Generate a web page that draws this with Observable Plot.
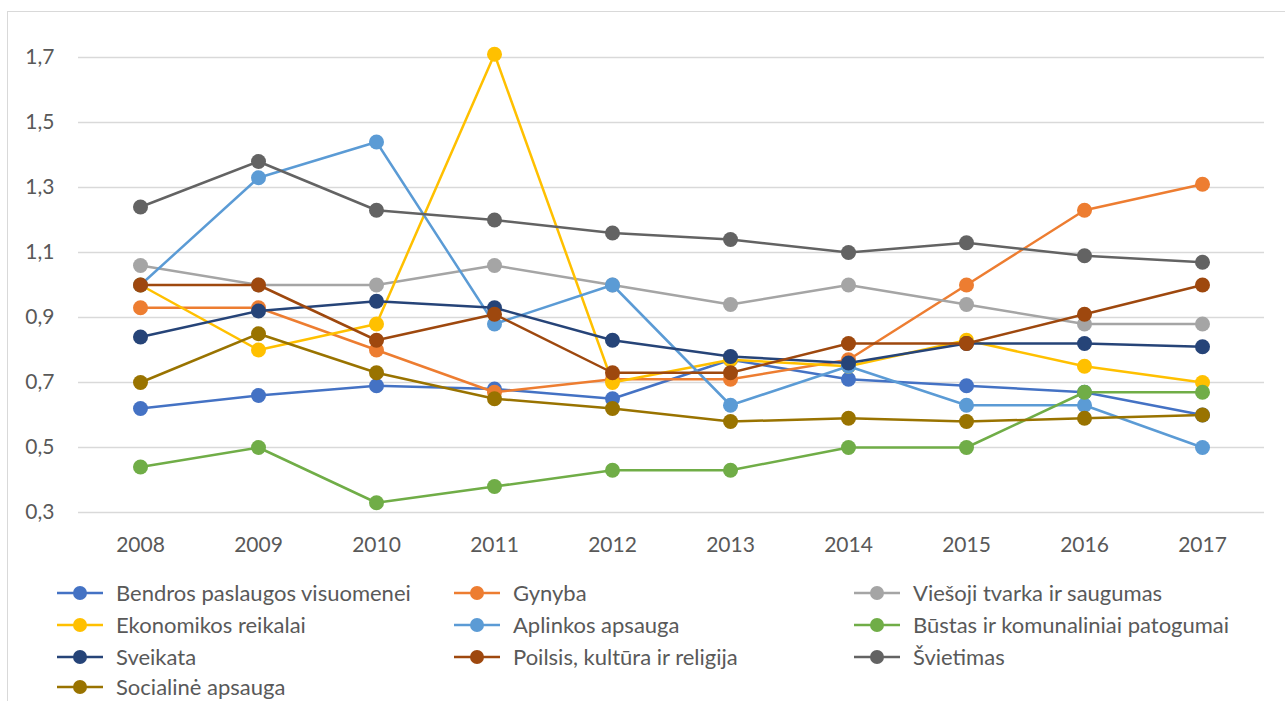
<!DOCTYPE html>
<html>
<head>
<meta charset="utf-8">
<script src="https://cdn.jsdelivr.net/npm/d3@7"></script>
<script src="https://cdn.jsdelivr.net/npm/@observablehq/plot@0.6"></script>
<style>
  html, body { margin: 0; padding: 0; background: #fff; }
  body { width: 1285px; height: 701px; overflow: hidden; position: relative; font-family: Lato, "Open Sans", sans-serif; }
  #frame { position: absolute; left: 7px; top: 11px; right: -5px; bottom: -5px; border-left: 1.5px solid #d9d9d9; border-top: 1.5px solid #d9d9d9; pointer-events: none; }
  #chart { position: absolute; left: 0; top: 0; }
  #legend { position: absolute; left: 0; top: 0; width: 1285px; height: 701px; pointer-events: none; }
  .item { position: absolute; display: flex; align-items: center; height: 26px; font-size: 22px; line-height: 26px; color: #595959; white-space: nowrap; }
  .item svg { display: block; }
</style>
</head>
<body>
<div id="frame"></div>
<div id="chart"></div>
<div id="legend"></div>
<script>
const years = ["2008","2009","2010","2011","2012","2013","2014","2015","2016","2017"];
const yTicks = [0.3, 0.5, 0.7, 0.9, 1.1, 1.3, 1.5, 1.7];

const seriesNames = [
  "Bendros paslaugos visuomenei",
  "Gynyba",
  "Viešoji tvarka ir saugumas",
  "Ekonomikos reikalai",
  "Aplinkos apsauga",
  "Būstas ir komunaliniai patogumai",
  "Sveikata",
  "Poilsis, kultūra ir religija",
  "Švietimas",
  "Socialinė apsauga"
];
const seriesColors = ["#4472C4","#ED7D31","#A5A5A5","#FFC000","#5B9BD5","#70AD47","#264478","#9E480E","#636363","#997300"];

const bendros     = [0.62, 0.66, 0.69, 0.68, 0.65, 0.77, 0.71, 0.69, 0.67, 0.60];
const gynyba      = [0.93, 0.93, 0.80, 0.67, 0.71, 0.71, 0.77, 1.00, 1.23, 1.31];
const viesoji     = [1.06, 1.00, 1.00, 1.06, 1.00, 0.94, 1.00, 0.94, 0.88, 0.88];
const ekonomikos  = [1.00, 0.80, 0.88, 1.71, 0.70, 0.77, 0.75, 0.83, 0.75, 0.70];
const aplinkos    = [1.00, 1.33, 1.44, 0.88, 1.00, 0.63, 0.75, 0.63, 0.63, 0.50];
const bustas      = [0.44, 0.50, 0.33, 0.38, 0.43, 0.43, 0.50, 0.50, 0.67, 0.67];
const sveikata    = [0.84, 0.92, 0.95, 0.93, 0.83, 0.78, 0.76, 0.82, 0.82, 0.81];
const poilsis     = [1.00, 1.00, 0.83, 0.91, 0.73, 0.73, 0.82, 0.82, 0.91, 1.00];
const svietimas   = [1.24, 1.38, 1.23, 1.20, 1.16, 1.14, 1.10, 1.13, 1.09, 1.07];
const socialine   = [0.70, 0.85, 0.73, 0.65, 0.62, 0.58, 0.59, 0.58, 0.59, 0.60];

const seriesValues = [bendros, gynyba, viesoji, ekonomikos, aplinkos, bustas, sveikata, poilsis, svietimas, socialine];

const rows = [];
seriesNames.forEach((name, i) => {
  years.forEach((yr, j) => rows.push({series: name, year: yr, value: seriesValues[i][j]}));
});

const fmt = d => d3.format(".1f")(d).replace(".", ",");

const marks = [
  Plot.gridY(yTicks, {stroke: "#d9d9d9", strokeOpacity: 1, strokeWidth: 1.5}),
  Plot.axisY(yTicks, {tickSize: 0, tickPadding: 24, tickFormat: fmt, fontSize: 21, fill: "#595959", label: null}),
  Plot.axisX({tickSize: 0, tickPadding: 25, fontSize: 21, fill: "#595959", label: null})
];
seriesNames.forEach(name => {
  const data = rows.filter(r => r.series === name);
  marks.push(Plot.line(data, {x: "year", y: "value", stroke: "series", strokeWidth: 2.5}));
  marks.push(Plot.dot(data, {x: "year", y: "value", fill: "series", r: 7.5}));
});

const chart = Plot.plot({
  width: 1285,
  height: 565,
  marginLeft: 78,
  marginRight: 21,
  marginTop: 57,
  marginBottom: 53,
  style: {fontFamily: "Lato, 'Open Sans', sans-serif", background: "transparent", overflow: "visible"},
  x: {type: "point", domain: years, padding: 0.5, label: null},
  y: {domain: [0.3, 1.7], label: null},
  color: {domain: seriesNames, range: seriesColors},
  marks
});
document.getElementById("chart").appendChild(chart);

// legend: 3 columns, row-wise
const legend = document.getElementById("legend");
const colMarker = [80, 477, 877];
const rowCenter = [593, 625, 657, 687];
seriesNames.forEach((name, i) => {
  const c = i % 3, r = Math.floor(i / 3);
  const div = document.createElement("div");
  div.className = "item";
  div.style.left = (colMarker[c] - 23) + "px";
  div.style.top = (rowCenter[r] - 13) + "px";
  div.innerHTML = `<svg width="46" height="26"><line x1="0" x2="46" y1="13" y2="13" stroke="${seriesColors[i]}" stroke-width="2.5"/><circle cx="23" cy="13" r="7" fill="${seriesColors[i]}"/></svg><span style="margin-left:13px">${name}</span>`;
  legend.appendChild(div);
});
</script>
</body>
</html>
